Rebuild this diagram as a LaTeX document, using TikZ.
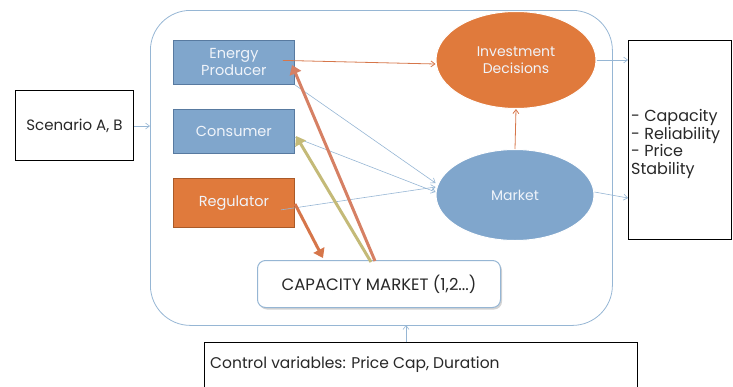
\documentclass[tikz,border=0pt]{standalone}
\usepackage{fontspec}
\setmainfont{Poppins}
\usetikzlibrary{arrows.meta,shadows,shapes.geometric}
\definecolor{boxblue}{RGB}{128,166,204}
\definecolor{boxblueedge}{RGB}{88,122,160}
\definecolor{boxorange}{RGB}{224,122,60}
\definecolor{boxorangeedge}{RGB}{170,90,40}
\definecolor{linkblue}{RGB}{150,182,212}
\definecolor{linkorange}{RGB}{214,118,74}
\definecolor{thicksalmon}{RGB}{214,128,100}
\definecolor{thickkhaki}{RGB}{196,186,120}
\definecolor{textdark}{RGB}{40,40,40}
\definecolor{boxtext}{RGB}{240,244,250}
\tikzset{
  actor/.style={draw=boxblueedge, fill=boxblue, line width=0.8pt, minimum width=121pt, minimum height=44pt, inner sep=0pt, text=boxtext, font=\fontsize{14.5}{17}\selectfont, align=center},
  orangeactor/.style={actor, draw=boxorangeedge, fill=boxorange},
  oval/.style={ellipse, draw=white, line width=1pt, inner sep=0pt, text=boxtext, font=\fontsize{14}{17}\selectfont, align=center},
  plainbox/.style={draw=black, line width=0.8pt, fill=white, inner sep=0pt, text=textdark},
  thin link/.style={draw=linkblue, line width=0.6pt, -{Straight Barb[length=4pt,width=6pt]}},
  orange link/.style={draw=linkorange, line width=0.8pt, -{Straight Barb[length=4pt,width=6pt]}},
  fat link/.style={line width=3pt, -{Triangle[length=9pt,width=12pt]}},
}
\begin{document}
\begin{tikzpicture}[x=1pt,y=-1pt]
\useasboundingbox (0,0) rectangle (733,386);
% container
\node[draw=linkblue, line width=0.8pt, rounded corners=40pt, minimum width=462pt, minimum height=315pt, anchor=north west, inner sep=0pt] (frame) at (150,10) {};
% boxes
\node[actor, anchor=north west] (prod) at (173,40) {Energy\\Producer};
\node[actor, anchor=north west] (cons) at (173,109) {Consumer};
\node[orangeactor, anchor=north west, minimum height=49pt] (reg) at (173,178) {Regulator};
\node[draw=linkblue, fill=white, line width=1pt, rounded corners=8pt, minimum width=243pt, minimum height=47pt, anchor=north west, inner sep=0pt, text=textdark, font=\fontsize{16.5}{18}\selectfont, drop shadow={shadow xshift=1.5pt, shadow yshift=-2pt, opacity=0.35}] (cap) at (257,260) {CAPACITY MARKET (1,2...)};
\node[oval, fill=boxorange, minimum width=160pt, minimum height=97pt] (inv) at (516,60) {Investment\\Decisions};
\node[oval, fill=boxblue, minimum width=158pt, minimum height=91pt] (mkt) at (515,195) {Market};
% outer boxes
\node[plainbox, anchor=north west, minimum width=103pt, minimum height=199pt] (out) at (628,40) {};
\node[anchor=west, text=textdark, align=left, inner sep=0pt, font=\fontsize{16}{17.5}\selectfont] (outtxt) at (631,144) {- Capacity\\- Reliability\\- Price\\Stability};
\node[plainbox, anchor=north west, minimum width=118pt, minimum height=70pt, font=\fontsize{15}{17}\selectfont] (scen) at (15,90) {Scenario A, B};
\node[plainbox, anchor=north west, minimum width=433pt, minimum height=50pt] (ctrl) at (204,342) {};
\node[anchor=west, text=textdark, inner sep=0pt, font=\fontsize{15.5}{17}\selectfont] (ctrltxt) at (210,365) {Control variables: Price Cap, Duration};
% coordinates on frame
\coordinate (fin) at (150,126);
\coordinate (fbot) at (406,325);
\coordinate (ctop) at (406,342);
% thin links
\draw[thin link] (scen.east |- fin) -- (fin);
\draw[thin link] (ctop) -- (fbot);
\draw[orange link] ([xshift=-12pt]prod.east) ++(0,2pt) -- (inv.west |- 0,64);
\draw[thin link] (prod.south east) -- ([yshift=12pt]mkt.west);
\draw[thin link] ([yshift=-6pt]cons.east) -- ([yshift=3pt]mkt.west);
\draw[thin link] ([xshift=-14pt,yshift=-7pt]reg.east) -- ([yshift=8pt]mkt.west);
\draw[orange link] (mkt.north) -- (inv.south);
\draw[thin link] (inv.east) -- (out.west |- inv.east);
\draw[thin link] ([yshift=3pt]mkt.east) -- (out.west |- 0,198);
% fat links
\draw[fat link, draw=linkorange, fill=linkorange] (295,204) -- (323,258);
\draw[fat link, draw=thicksalmon, fill=thicksalmon] (375,261) -- (292,65);
\draw[fat link, draw=thickkhaki, fill=thickkhaki] (371,262) -- (296,136);
\end{tikzpicture}
\end{document}
